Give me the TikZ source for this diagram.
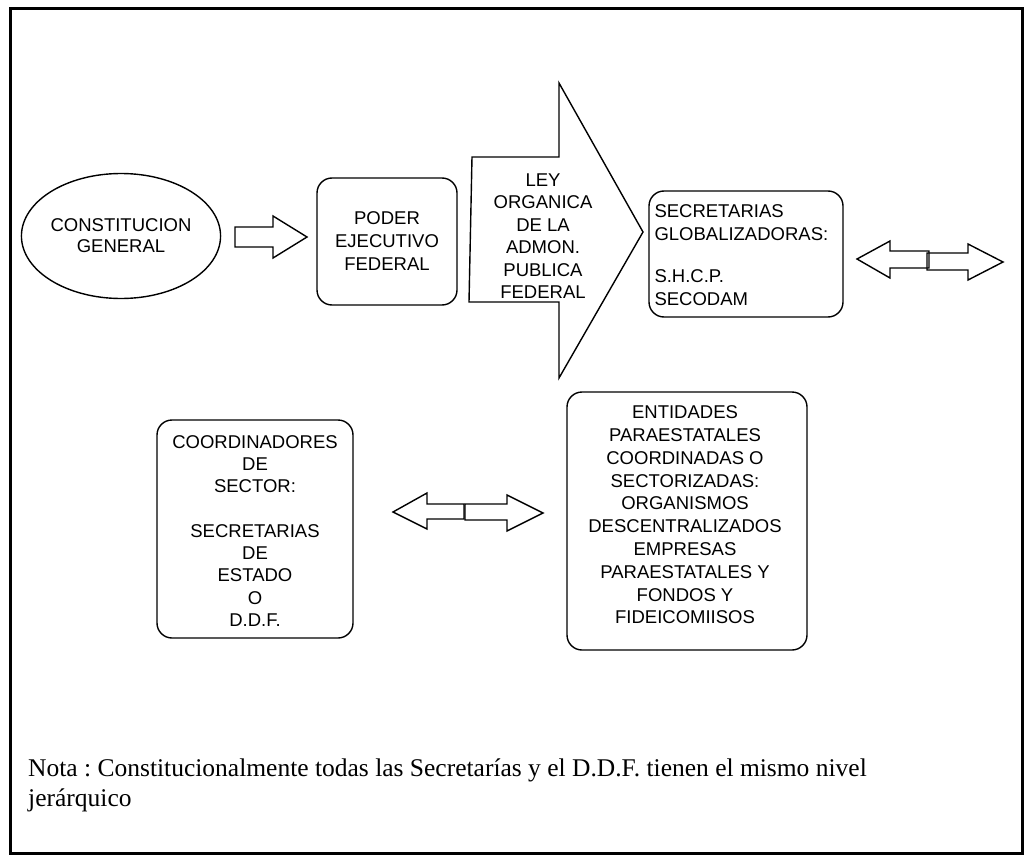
\documentclass[tikz,border=0pt]{standalone}
\usepackage{fontspec}
\usetikzlibrary{shapes.geometric}
\setmainfont{Liberation Sans}
\newfontfamily\notefont{Liberation Serif}
\begin{document}
\frenchspacing
\begin{tikzpicture}[x=1pt,y=-1pt,
  shp/.style={draw=black,line width=1.4pt,line join=miter},
  txt/.style={font=\fontsize{18.5}{23}\selectfont,align=center,inner sep=0pt},
  rbox/.style={shp,rectangle,rounded corners=15pt,inner sep=0pt},
  notestyle/.style={anchor=base west,inner sep=0pt,font=\notefont\fontsize{25.5}{30}\selectfont}]
\useasboundingbox (0,0) rectangle (1031,859);
\draw[line width=3pt] (10,9) rectangle (1022,853);
% first row
\node[shp,ellipse,minimum width=192pt,minimum height=125pt,inner sep=0pt,
      font=\fontsize{18.5}{21}\selectfont,align=center] (cons) at (121,236) {CONSTITUCION\\GENERAL};
\node[rbox,minimum width=140pt,minimum height=127pt,txt] (poder) at (387,241.5) {PODER\\EJECUTIVO\\FEDERAL};
% small arrow
\draw[shp] (235,227) -- (273,227) -- (273,216) -- (307,237) -- (273,258) -- (273,247) -- (235,247) -- cycle;
% big arrow
\draw[shp] (472,157) -- (559,157) -- (559,83) -- (643,232) -- (559,378) -- (559,302) -- (469,302) -- cycle;
\node[txt,font=\fontsize{18.5}{22.5}\selectfont] (ley) at (543,236) {LEY\\ORGANICA\\DE LA\\ADMON.\\PUBLICA\\FEDERAL};
% secretarias globalizadoras
\node[rbox,minimum width=194pt,minimum height=126pt] (glob) at (746,254) {};
\node[txt,font=\fontsize{18.5}{22.5}\selectfont,align=left,anchor=west] (globt) at ([xshift=6pt,yshift=-1pt]glob.west) {SECRETARIAS\\GLOBALIZADORAS:\\[20pt]S.H.C.P.\\SECODAM};
% top double arrow
\draw[shp] (857,259) -- (890,241) -- (890,251) -- (929,251) -- (929,268) -- (890,268) -- (890,278) -- cycle;
\draw[shp] (1003,262) -- (968,244) -- (968,253) -- (927,253) -- (927,270) -- (968,270) -- (968,280) -- cycle;
% second row
\node[rbox,minimum width=196pt,minimum height=218pt] (coord) at (255,529) {};
\node[txt,font=\fontsize{18.5}{22.25}\selectfont] (coordt) at (255,531) {COORDINADORES\\DE\\SECTOR:\\[22.25pt]SECRETARIAS\\DE\\ESTADO\\O\\D.D.F.};
\node[rbox,minimum width=240pt,minimum height=258pt] (ent) at (687,521) {};
\node[txt,font=\fontsize{18.5}{22.8}\selectfont] (entt) at (685,515) {ENTIDADES\\PARAESTATALES\\COORDINADAS O\\SECTORIZADAS:\\ORGANISMOS\\DESCENTRALIZADOS\\EMPRESAS\\PARAESTATALES Y\\FONDOS Y\\FIDEICOMIISOS};
% bottom double arrow
\draw[shp] (393,512) -- (427,493) -- (427,504) -- (464,504) -- (464,519) -- (427,519) -- (427,529) -- cycle;
\draw[shp] (543,513) -- (507,495) -- (507,504) -- (465,504) -- (465,520) -- (507,520) -- (507,531) -- cycle;
% note
\node[notestyle] (nota) at (28,776) {Nota : Constitucionalmente todas las Secretarías y el D.D.F. tienen el mismo nivel};
\node[notestyle] (nota2) at (28,806) {jerárquico};
\end{tikzpicture}
\end{document}
